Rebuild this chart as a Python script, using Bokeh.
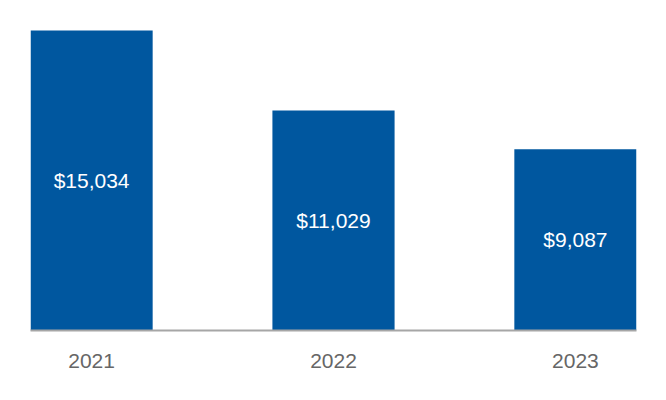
from bokeh.plotting import figure
from bokeh.models import Range1d, ColumnDataSource, FixedTicker
from bokeh.embed import file_html
from bokeh.resources import INLINE
from bokeh.core.properties import value

years = ["2021", "2022", "2023"]
amounts = [15034, 11029, 9087]

xs = list(range(len(years)))
labels = ["${:,}".format(a) for a in amounts]
src = ColumnDataSource(dict(x=xs, top=amounts, mid=[a / 2 for a in amounts], label=labels))

p = figure(width=658, height=392, output_backend="svg", toolbar_location=None,
           x_range=Range1d(-0.2525, 2.2525), y_range=Range1d(0, 15635),
           min_border_left=30, min_border_right=22, min_border_top=18, min_border_bottom=62)
p.outline_line_color = None
p.grid.visible = False
p.yaxis.visible = False
p.background_fill_color = "white"
p.border_fill_color = "white"

p.vbar(x="x", top="top", bottom=0, width=0.505, source=src, fill_color="#00579F", line_color=None)
p.text(x="x", y="mid", text="label", source=src, text_color="white", text_align="center",
       text_baseline="middle", text_font=value("Liberation Sans"), text_font_size="21px")

ax = p.xaxis[0]
ax.ticker = FixedTicker(ticks=xs)
ax.major_label_overrides = {i: y for i, y in zip(xs, years)}
ax.major_tick_line_color = None
ax.minor_tick_line_color = None
ax.axis_line_color = "#A6A6A6"
ax.axis_line_width = 2
ax.major_label_text_color = "#666666"
ax.major_label_text_font = "Liberation Sans"
ax.major_label_text_font_size = "21px"
ax.major_label_standoff = 17

open("out.html", "w").write(file_html(p, INLINE))
